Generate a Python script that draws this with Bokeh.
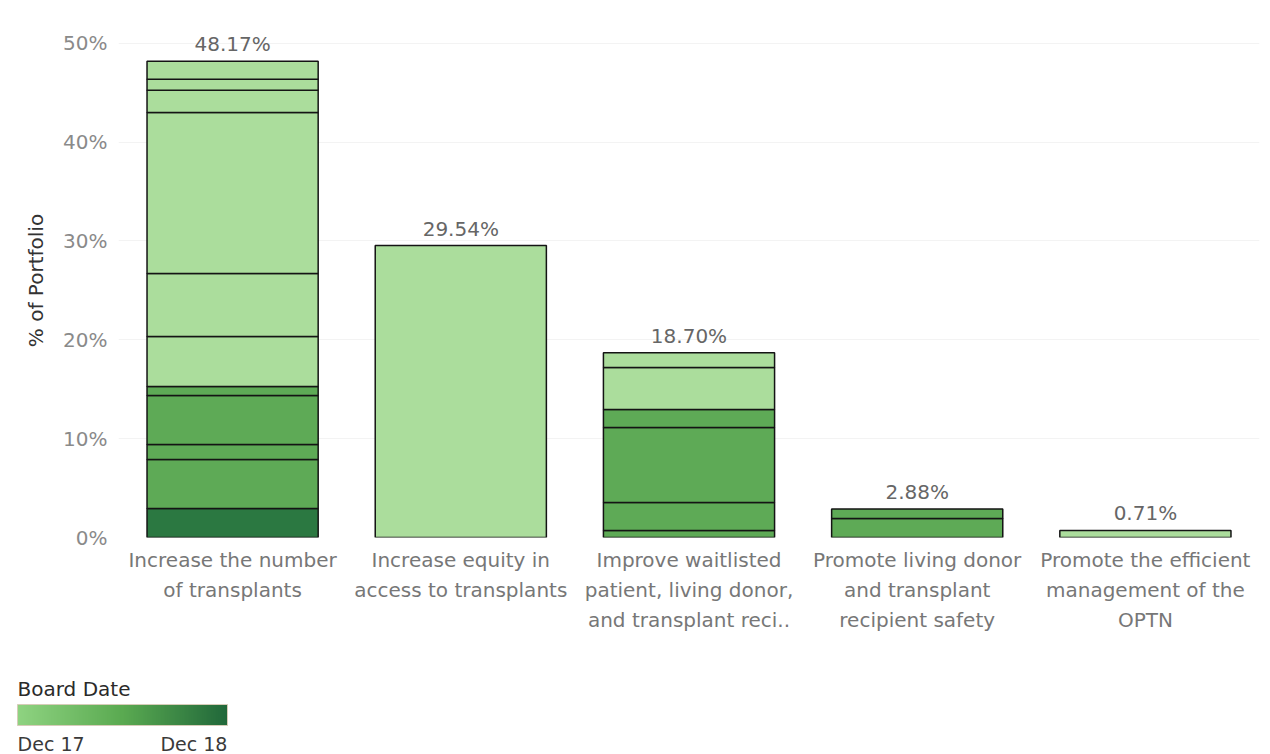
from bokeh.plotting import figure
from bokeh.models import (ColumnDataSource, Range1d, FixedTicker, PrintfTickFormatter,
                          LabelSet, ColorBar, LinearColorMapper)
from bokeh.core.properties import value
from bokeh.embed import file_html
from bokeh.resources import INLINE

FONT = "DejaVu Sans"

# Strategic goals (x categories), as shown under the bars
goals = [
    "Increase the number\nof transplants",
    "Increase equity in\naccess to transplants",
    "Improve waitlisted\npatient, living donor,\nand transplant reci..",
    "Promote living donor\nand transplant\nrecipient safety",
    "Promote the efficient\nmanagement of the\nOPTN",
]

# Share of portfolio (%) per project, stacked bottom to top, with its board date
shares_goal1 = [2.94, 4.95, 1.52, 4.96, 0.91, 5.06, 6.38, 16.28, 2.24, 1.12, 1.81]
dates_goal1 = ["Dec 18", "Jun 18", "Jun 18", "Jun 18", "Jun 18",
               "Dec 17", "Dec 17", "Dec 17", "Dec 17", "Dec 17", "Dec 17"]
shares_goal2 = [29.54]
dates_goal2 = ["Dec 17"]
shares_goal3 = [0.71, 2.83, 7.59, 1.83, 4.24, 1.50]
dates_goal3 = ["Jun 18", "Jun 18", "Jun 18", "Jun 18", "Dec 17", "Dec 17"]
shares_goal4 = [1.92, 0.96]
dates_goal4 = ["Jun 18", "Jun 18"]
shares_goal5 = [0.71]
dates_goal5 = ["Dec 17"]

y_ticks = [0, 10, 20, 30, 40, 50]

# Board date legend: first and last board meeting
legend_ends = ["Dec 17", "Dec 18"]

date_colors = {"Dec 17": "#abdd9c", "Jun 18": "#5eaa56", "Dec 18": "#2b7841"}

all_shares = [shares_goal1, shares_goal2, shares_goal3, shares_goal4, shares_goal5]
all_dates = [dates_goal1, dates_goal2, dates_goal3, dates_goal4, dates_goal5]

seg = dict(x=[], bottom=[], top=[], color=[])
totals = dict(x=[], total=[], label=[])
for goal, shares, dates in zip(goals, all_shares, all_dates):
    base = 0.0
    for s, d in zip(shares, dates):
        seg["x"].append(goal)
        seg["bottom"].append(base)
        seg["top"].append(base + s)
        seg["color"].append(date_colors[d])
        base += s
    totals["x"].append(goal)
    totals["total"].append(base)
    totals["label"].append(f"{base:.2f}%")

W, H = 1270, 754
LEFT, RIGHT, TOP, BOTTOM = 118, 11, 23, 217

p = figure(x_range=goals, y_range=Range1d(0, 52), width=W, height=H,
           min_border_left=LEFT, min_border_right=RIGHT, min_border_top=TOP,
           min_border_bottom=BOTTOM, output_backend="svg", toolbar_location=None)

p.vbar(x="x", bottom="bottom", top="top", width=0.75, fill_color="color",
       line_color="#141414", line_width=1.5, source=ColumnDataSource(seg))

p.add_layout(LabelSet(x="x", y="total", text="label", source=ColumnDataSource(totals),
                      y_offset=5, text_align="center", text_baseline="bottom",
                      text_font=value(FONT), text_font_size="20px", text_color="#666666"))

p.outline_line_color = None
p.xgrid.grid_line_color = None
p.ygrid.grid_line_color = "#f3f3f3"
p.ygrid.ticker = FixedTicker(ticks=y_ticks)

p.yaxis.ticker = FixedTicker(ticks=y_ticks)
p.yaxis.formatter = PrintfTickFormatter(format="%d%%")
p.yaxis.axis_label = "% of Portfolio"
p.yaxis.axis_label_text_font = FONT
p.yaxis.axis_label_text_font_size = "20px"
p.yaxis.axis_label_text_font_style = "normal"
p.yaxis.axis_label_text_color = "#333333"
p.yaxis.axis_label_standoff = 12

for ax in (p.xaxis, p.yaxis):
    ax.axis_line_color = None
    ax.major_tick_line_color = None
    ax.minor_tick_line_color = None
    ax.major_tick_out = 0
    ax.major_label_text_font = FONT
    ax.major_label_text_font_size = "20px"

p.yaxis.major_label_text_color = "#8a8a8a"
p.yaxis.major_label_standoff = 11

p.xaxis.major_label_text_color = "#777777"
p.xaxis.major_label_text_line_height = 1.25
p.xaxis.major_label_standoff = 10

# Board date colour legend
def ramp(c0, c1, n):
    a = [int(c0[i:i + 2], 16) for i in (1, 3, 5)]
    b = [int(c1[i:i + 2], 16) for i in (1, 3, 5)]
    out = []
    for k in range(n):
        t = k / (n - 1)
        out.append("#%02x%02x%02x" % tuple(round(a[j] + (b[j] - a[j]) * t) for j in range(3)))
    return out

legend_palette = ramp("#8fd381", "#5aaa51", 128) + ramp("#5aaa51", "#21683a", 128)
mapper = LinearColorMapper(palette=legend_palette, low=0, high=1)

# end labels sit flush with the ends of the gradient
label_pos = [0.16, 0.84]

cb = ColorBar(color_mapper=mapper, orientation="horizontal",
              location=(17 - LEFT, -3 - BOTTOM),
              width=210, height=21, padding=0,
              title="Board Date", title_text_font=FONT, title_text_font_size="20px",
              title_text_font_style="normal", title_text_color="#2a2a2a",
              title_standoff=8,
              ticker=FixedTicker(ticks=label_pos),
              major_label_overrides=dict(zip(label_pos, legend_ends)),
              major_label_text_font=FONT, major_label_text_font_size="19px",
              major_label_text_color="#3a3a3a", label_standoff=7,
              major_tick_line_color=None, minor_tick_line_color=None,
              bar_line_color="#d6ccb8", background_fill_alpha=0,
              border_line_color=None)
p.add_layout(cb, "center")

open("out.html", "w").write(file_html(p, INLINE))
